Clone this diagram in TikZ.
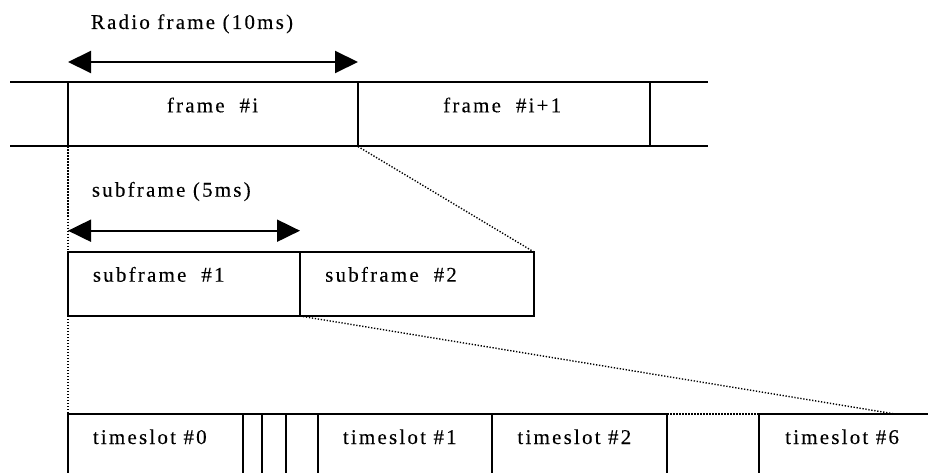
\documentclass[tikz,border=0pt]{standalone}
\usepackage{fontspec}
\setmainfont{Liberation Serif}[LetterSpace=10.5,FakeBold=0.15]
\usetikzlibrary{arrows.meta}
\begin{document}
\begin{tikzpicture}[x=1pt,y=-1pt,
  box/.style={draw, line width=2pt, rectangle, inner sep=0pt, outer sep=0pt, anchor=north west},
  lbl/.style={inner sep=0pt, anchor=base west, font=\fontsize{21}{25}\selectfont},
  thick line/.style={line width=2pt},
  dots/.style={line width=1.4pt, dash pattern=on 1.3pt off 1.7pt},
  dimarrow/.style={line width=2pt, {Triangle[length=23pt,width=22pt]}-{Triangle[length=23pt,width=22pt]}}]
\useasboundingbox (0,0) rectangle (928,473);
\clip (0,0) rectangle (928,473);
% radio frames
\node[box, minimum width=290pt, minimum height=64.5pt] (fi) at (68,82) {};
\node[box, minimum width=292pt, minimum height=64.5pt] (fi1) at (358,82) {};
\coordinate (ltop) at (10,82);
\coordinate (lbot) at (10,146.5);
\coordinate (rtop) at (708,82);
\coordinate (rbot) at (708,146.5);
\draw[thick line] (ltop) -- (fi.north west);
\draw[thick line] (lbot) -- (fi.south west);
\draw[thick line] (fi1.north east) -- (rtop);
\draw[thick line] (fi1.south east) -- (rbot);
\node[lbl] (lradio) at ([xshift=22.7pt,yshift=53pt]fi.north west) {Radio frame (10ms)};
\node[lbl] (lfi) at ([xshift=98.7pt,yshift=-30.3pt]fi.north west) {frame~~\#i};
\node[lbl] (lfi1) at ([xshift=85pt,yshift=-30.3pt]fi1.north west) {frame~~\#i+1};
\coordinate (a1l) at ([yshift=20pt]fi.north west);
\coordinate (a1r) at ([yshift=20pt]fi.north east);
\draw[dimarrow] (a1l) -- (a1r);
% subframes
\node[box, minimum width=232pt, minimum height=64pt] (sf1) at (68,252) {};
\node[box, minimum width=234pt, minimum height=64pt] (sf2) at (300,252) {};
\node[lbl] (lsub) at ([xshift=23.7pt,yshift=55.3pt]sf1.north west) {subframe (5ms)};
\node[lbl] (lsf1) at ([xshift=24.7pt,yshift=-29.7pt]sf1.north west) {subframe~~\#1};
\node[lbl] (lsf2) at ([xshift=25pt,yshift=-29.7pt]sf2.north west) {subframe~~\#2};
\coordinate (a2l) at ([yshift=21.3pt]sf1.north west);
\coordinate (a2r) at ([yshift=21.3pt]sf1.north east);
\draw[dimarrow] (a2l) -- (a2r);
% timeslots
\node[box, minimum width=175.3pt, minimum height=100pt] (ts0) at (68,414) {};
\node[box, minimum width=19pt, minimum height=100pt] (sa) at (243.3,414) {};
\node[box, minimum width=23.4pt, minimum height=100pt] (sb) at (262.3,414) {};
\node[box, minimum width=32.6pt, minimum height=100pt] (sc) at (285.7,414) {};
\node[box, minimum width=174pt, minimum height=100pt] (ts1) at (318.3,414) {};
\node[box, minimum width=175pt, minimum height=100pt] (ts2) at (492.3,414) {};
\node[box, minimum width=220pt, minimum height=100pt] (ts6) at (759,414) {};
\node[lbl] (lts0) at ([xshift=24.7pt,yshift=-30pt]ts0.north west) {timeslot \#0};
\node[lbl] (lts1) at ([xshift=24.4pt,yshift=-30pt]ts1.north west) {timeslot \#1};
\node[lbl] (lts2) at ([xshift=25pt,yshift=-30pt]ts2.north west) {timeslot \#2};
\node[lbl] (lts6) at ([xshift=26pt,yshift=-30pt]ts6.north west) {timeslot \#6};
% dotted zoom lines
\coordinate (zend) at (895,414);
\draw[dots] (fi.south west) -- (sf1.north west);
\draw[dots] (fi.south east) -- (sf2.north east);
\draw[dots] (sf1.south west) -- (ts0.north west);
\draw[dots] (sf1.south east) -- (zend);
\draw[dots] (ts2.north east) -- (ts6.north west);
\end{tikzpicture}
\end{document}
